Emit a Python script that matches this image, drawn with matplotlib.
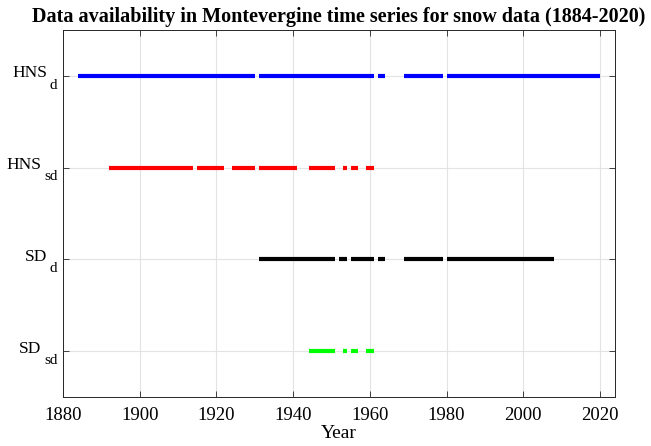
import matplotlib
matplotlib.use("Agg")
import matplotlib.pyplot as plt

plt.rcParams["font.family"] = "Liberation Serif"

# data periods (start year, end year) for each series
series_main = ["HNS", "HNS", "SD", "SD"]
series_sub = ["d", "sd", "d", "sd"]
series_colors = ["blue", "red", "black", "#00ff00"]
hns_d = [(1884, 1930), (1931, 1961), (1962, 1964), (1969, 1979), (1980, 2020)]
hns_sd = [(1892, 1914), (1915, 1922), (1924, 1930), (1931, 1941), (1944, 1951),
          (1953, 1954), (1955, 1957), (1959, 1961)]
sd_d = [(1931, 1951), (1952, 1954), (1955, 1961), (1962, 1964), (1969, 1979), (1980, 2008)]
sd_sd = [(1944, 1951), (1953, 1954), (1955, 1957), (1959, 1961)]
all_series = [hns_d, hns_sd, sd_d, sd_sd]
levels = [4, 3, 2, 1]

fig = plt.figure(figsize=(6.51, 4.46), dpi=100)
ax = fig.add_axes([0.097, 0.11, 0.848, 0.823])

for segs, lev, col in zip(all_series, levels, series_colors):
    for s, e in segs:
        ax.plot([s, e], [lev, lev], color=col, linewidth=3, solid_capstyle="butt")

ax.set_xlim(1880, 2024)
ax.set_ylim(0.5, 4.5)
ax.set_xticks(range(1880, 2021, 20))
ax.set_yticks(levels)
ax.set_yticklabels([])
ax.grid(True, color="#e3e3e3", linewidth=0.8)
ax.set_axisbelow(True)
ax.tick_params(direction="in", top=True, right=True, labelsize=13.5, colors="#262626",
               length=4, width=0.6)
ax.tick_params(axis="x", pad=7)
for sp in ax.spines.values():
    sp.set_color("#262626")
    sp.set_linewidth(0.7)
for lbl in ax.get_xticklabels():
    lbl.set_color("black")

# y labels with MATLAB-style subscripts
ytr = ax.get_yaxis_transform()
fig.canvas.draw()
for main, sub, lev in zip(series_main, series_sub, levels):
    t_sub = ax.annotate(sub, xy=(0, lev), xycoords=ytr, xytext=(-4.2, -9.3),
                        textcoords="offset points", ha="right", va="baseline",
                        fontsize=11)
    w = t_sub.get_window_extent(fig.canvas.get_renderer()).width * 72 / fig.dpi
    ax.annotate(main, xy=(0, lev), xycoords=ytr, xytext=(-4.2 - w - 1.6, -1.2),
                textcoords="offset points", ha="right", va="baseline", fontsize=12.5)

ax.set_xlabel("Year", fontsize=14, labelpad=1)
ax.set_title("Data availability in Montevergine time series for snow data (1884-2020)",
             fontsize=14.5, fontweight="bold", pad=6)

fig.savefig("out.png", dpi=100)
